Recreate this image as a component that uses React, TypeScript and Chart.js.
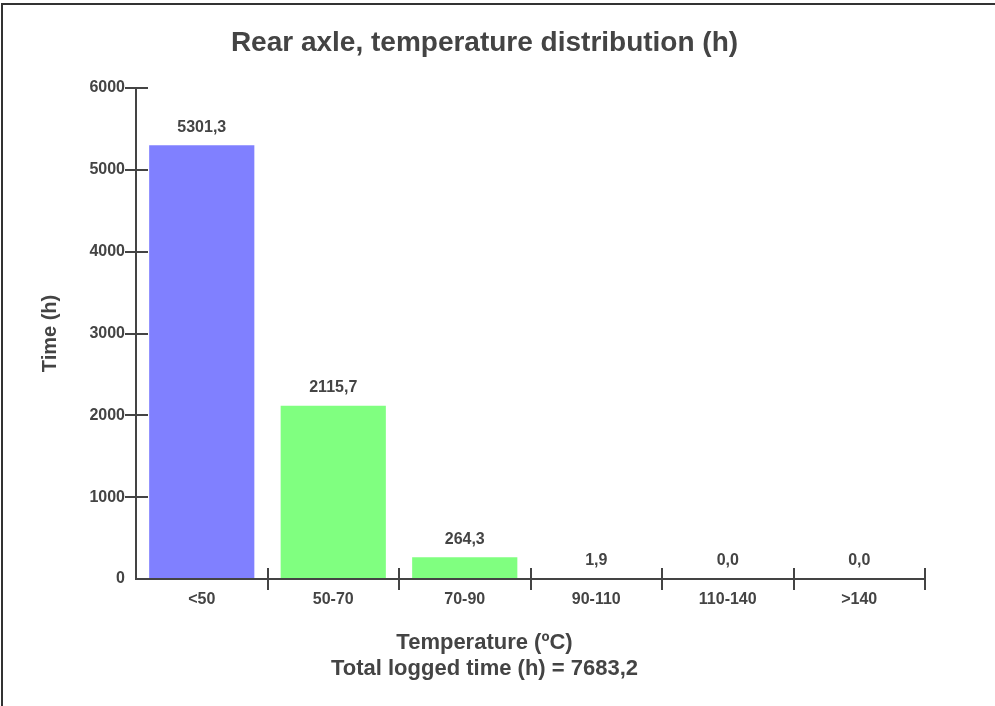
import React, { useEffect, useRef } from 'react';
import { Chart, registerables } from 'chart.js';

Chart.register(...registerables);

const categories = ['<50', '50-70', '70-90', '90-110', '110-140', '>140'];
const hours = [5301.3, 2115.7, 264.3, 1.9, 0.0, 0.0];
const barColors = ['#8080FF', '#80FF80', '#80FF80', '#80FF80', '#80FF80', '#80FF80'];
const yMin = 0;
const yMax = 6000;
const yStep = 1000;
const totalHours = 7683.2;

const fmt = (v: number) => v.toFixed(1).replace('.', ',');

const chartTitle = 'Rear axle, temperature distribution (h)';
const xTitleLines = ['Temperature (ºC)', `Total logged time (h) = ${fmt(totalHours)}`];
const yTitle = 'Time (h)';

const TEXT = '#444444';
const AXIS = '#444444';
const FONT = '"Liberation Sans", Arial, Helvetica, sans-serif';

const crossTicks = {
  id: 'crossTicks',
  afterDraw(chart: any) {
    const { ctx, chartArea, scales } = chart;
    const x = scales.x;
    const y = scales.y;
    ctx.save();
    ctx.strokeStyle = AXIS;
    ctx.lineWidth = 2;
    ctx.beginPath();
    // redraw base axis line over the bars
    const by = Math.round(y.getPixelForValue(0));
    ctx.moveTo(chartArea.left - 1, by);
    ctx.lineTo(chartArea.right, by);
    y.ticks.forEach((t: any) => {
      if (t.value === 0) return;
      const py = Math.round(y.getPixelForValue(t.value));
      ctx.moveTo(chartArea.left - 11, py);
      ctx.lineTo(chartArea.left + 12, py);
    });
    for (let i = 0; i < categories.length; i++) {
      const px = Math.round(x.getPixelForValue(i + 0.5));
      ctx.moveTo(px, chartArea.bottom - 11);
      ctx.lineTo(px, chartArea.bottom + 11);
    }
    ctx.stroke();

    const meta = chart.getDatasetMeta(0);
    ctx.fillStyle = TEXT;
    ctx.font = `bold 16px ${FONT}`;
    ctx.textAlign = 'center';
    ctx.textBaseline = 'middle';
    meta.data.forEach((bar: any, i: number) => {
      ctx.fillText(fmt(hours[i]), bar.x, bar.y - 18);
    });
    ctx.restore();
  },
};

export default function App() {
  const ref = useRef<HTMLCanvasElement | null>(null);

  useEffect(() => {
    if (!ref.current) return;
    const chart = new Chart(ref.current, {
      type: 'bar',
      data: {
        labels: categories,
        datasets: [
          {
            data: hours,
            backgroundColor: barColors,
            borderWidth: 0,
            barPercentage: 0.8,
            categoryPercentage: 1.0,
          },
        ],
      },
      options: {
        responsive: false,
        animation: false,
        devicePixelRatio: 1,
        layout: { padding: { left: 44, right: 70, top: 0, bottom: 0 } },
        plugins: {
          legend: { display: false },
          tooltip: { enabled: false },
          title: {
            display: true,
            text: chartTitle,
            color: TEXT,
            font: { family: FONT, size: 28, weight: 'bold', lineHeight: 1.2 },
            padding: { top: 26, bottom: 28.4 },
          },
          subtitle: {
            display: true,
            position: 'bottom',
            text: xTitleLines,
            color: TEXT,
            font: { family: FONT, size: 22, weight: 'bold', lineHeight: 1.2 },
            padding: { top: 0, bottom: 23.4 },
          },
        },
        scales: {
          x: {
            offset: true,
            grid: {
              display: true,
              offset: true,
              drawOnChartArea: false,
              drawTicks: true,
              tickLength: 11,
              tickColor: 'rgba(0,0,0,0)',
            },
            border: { display: true, color: AXIS, width: 2 },
            ticks: {
              color: TEXT,
              padding: 0,
              maxRotation: 0,
              font: { family: FONT, size: 16, weight: 'bold', lineHeight: 1.2 },
            },
            afterFit: (s: any) => {
              s.height = 50.8;
            },
          },
          y: {
            min: yMin,
            max: yMax,
            grid: {
              display: true,
              drawOnChartArea: false,
              drawTicks: true,
              tickLength: 11,
              tickColor: 'rgba(0,0,0,0)',
            },
            border: { display: true, color: AXIS, width: 2 },
            ticks: {
              stepSize: yStep,
              color: TEXT,
              padding: 0,
              font: { family: FONT, size: 16, weight: 'bold', lineHeight: 1.2 },
              callback: (v: any) => String(v),
            },
            title: {
              display: true,
              text: yTitle,
              color: TEXT,
              font: { family: FONT, size: 20, weight: 'bold', lineHeight: 1.2 },
              padding: { top: -6, bottom: 0 },
            },
            afterFit: (s: any) => {
              s.width = 92;
            },
          },
        },
      },
      plugins: [crossTicks],
    } as any);
    return () => chart.destroy();
  }, []);

  return (
    <div
      style={{
        position: 'fixed',
        left: 0,
        top: 0,
        width: 995,
        height: 706,
        background: '#ffffff',
        overflow: 'hidden',
      }}
    >
      <canvas
        ref={ref}
        width={995}
        height={706}
        style={{ position: 'absolute', left: 0, top: 0, width: 995, height: 706 }}
      />
      <div
        style={{
          position: 'absolute',
          left: 1,
          top: 3,
          width: 1200,
          height: 900,
          borderTop: '2px solid #333',
          borderLeft: '2px solid #333',
          pointerEvents: 'none',
        }}
      />
    </div>
  );
}
